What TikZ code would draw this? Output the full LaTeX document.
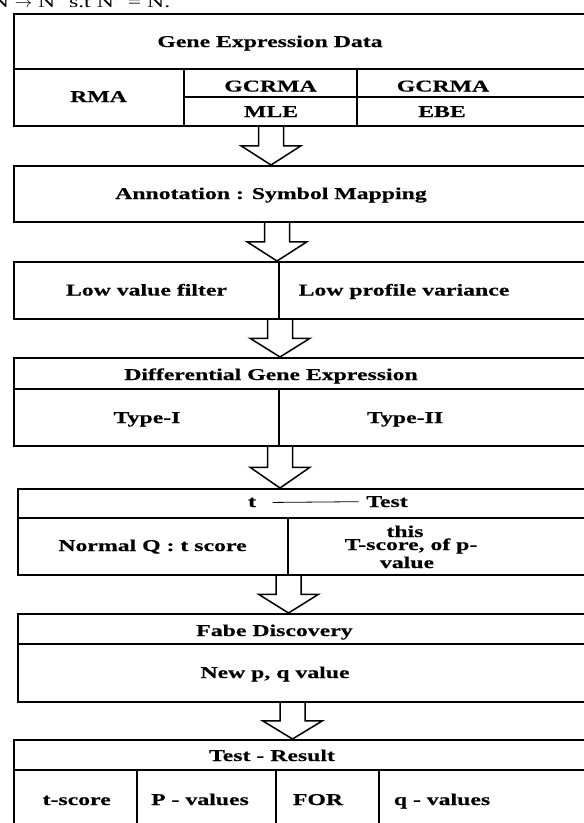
\documentclass[tikz,border=0pt]{standalone}
\usepackage{fontspec}
\setmainfont{Liberation Serif}[FakeStretch=1.44, BoldFeatures={FakeBold=0.4}]
\usetikzlibrary{calc}

\newcommand\lblfont{\fontsize{16.5}{19}\selectfont\bfseries}
% hollow down arrow between two stacked boxes, shaft centred at x=#3
\newcommand\blockarrow[3]{%
    \draw[blockarr] let \p1=(#1.south), \p2=(#2.north) in
        (#3-12.5,\y1) -- (#3-12.5,{(\y1+\y2)/2}) -- (#3-30,{(\y1+\y2)/2}) -- (#3,\y2)
        -- (#3+30,{(\y1+\y2)/2}) -- (#3+12.5,{(\y1+\y2)/2}) -- (#3+12.5,\y1);}

\begin{document}
\begin{tikzpicture}[x=1pt, y=-1pt, line width=1.5pt,
    cell/.style={rectangle, draw, anchor=north west, inner sep=0pt},
    lbl/.style={font=\lblfont, anchor=base, inner sep=0pt},
    blockarr/.style={line width=1.5pt}]
    \useasboundingbox (0,0) rectangle (584,823);

    \node[font=\fontsize{16.5}{19}\selectfont, anchor=base west, inner sep=0pt] (header) at (-9,7) {N \(\rightarrow\) N' s.t N' = N.};

    % Gene expression data
    \node[cell, minimum width=579pt, minimum height=112pt] (gene) at (13,13) {};
    \draw (13,69) -- (592,69) (184,69) -- (184,125) (357,69) -- (357,125) (184,97) -- (592,97);
    \node[lbl] (genetitle) at (270,47) {Gene Expression Data};
    \node[lbl] (rma) at (98.5,102) {RMA};
    \node[lbl] (gcrmamle) at (270.5,91.5) {GCRMA};
    \node[lbl] (mle) at (271,117) {MLE};
    \node[lbl] (gcrmaebe) at (443,91.5) {GCRMA};
    \node[lbl] (ebe) at (442,117) {EBE};

    % Annotation
    \node[cell, minimum width=579pt, minimum height=56pt] (annot) at (13,165) {};
    \node[lbl] (annottext) at (271,199) {Annotation : Symbol Mapping};

    % Filters
    \node[cell, minimum width=579pt, minimum height=57pt] (filter) at (13,261) {};
    \draw (279,261) -- (279,318);
    \node[lbl] (lowvalue) at (146.5,295.5) {Low value filter};
    \node[lbl] (lowvar) at (404,295.5) {Low profile variance};

    % Differential expression
    \node[cell, minimum width=579pt, minimum height=88pt] (diff) at (13,357) {};
    \draw (13,389) -- (592,389) (279,389) -- (279,445);
    \node[lbl] (difftitle) at (271,380) {Differential Gene Expression};
    \node[lbl] (typeone) at (147,423) {Type-I};
    \node[lbl] (typetwo) at (405,423) {Type-II};

    % t test
    \node[cell, minimum width=575pt, minimum height=86pt] (ttest) at (17,488) {};
    \draw (17,518) -- (592,518) (288,518) -- (288,574);
    \node[lbl] (tletter) at (252,507) {t};
    \node[lbl] (testword) at (387,507) {Test};
    \draw[line width=0.8pt] ([xshift=16pt]tletter.east) -- ([xshift=-7pt]testword.west);
    \node[lbl] (normalq) at (152.5,551) {Normal Q : t score};
    \node[lbl] (thisw) at (405,537) {this};
    \node[lbl] (tscore) at (411,550) {T-score, of p-};
    \node[lbl] (pvalue) at (407,568) {value};

    % false discovery
    \node[cell, minimum width=575pt, minimum height=88pt] (fdr) at (17,613) {};
    \draw (17,644) -- (592,644);
    \node[lbl] (fdrtitle) at (274.5,636) {Fabe Discovery};
    \node[lbl] (newpq) at (275,678) {New p, q value};

    % results
    \node[cell, minimum width=579pt, minimum height=111pt] (result) at (13,739) {};
    \draw (13,770) -- (592,770) (137,770) -- (137,850) (276,770) -- (276,850) (379,770) -- (379,850);
    \node[lbl] (restitle) at (272,761) {Test - Result};
    \node[lbl] (tscoreres) at (76.7,805) {t-score};
    \node[lbl] (pvalues) at (200,805) {P - values};
    \node[lbl] (forres) at (318,805) {FOR};
    \node[lbl] (qvalues) at (442,805) {q - values};

    \blockarrow{gene}{annot}{271}
    \blockarrow{annot}{filter}{277}
    \blockarrow{filter}{diff}{280}
    \blockarrow{diff}{ttest}{280}
    \blockarrow{ttest}{fdr}{288.5}
    \blockarrow{fdr}{result}{292.5}
\end{tikzpicture}
\end{document}
